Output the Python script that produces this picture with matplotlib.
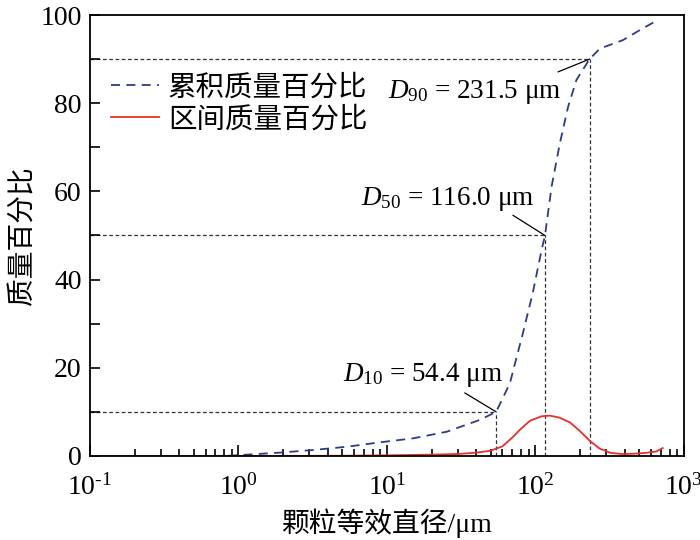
import matplotlib
matplotlib.use("Agg")
import matplotlib.pyplot as plt
from matplotlib.ticker import LogLocator, MultipleLocator, FuncFormatter
import numpy as np

plt.rcParams['font.family'] = ['Liberation Serif', 'Noto Sans CJK SC']
plt.rcParams['mathtext.fontset'] = 'custom'
plt.rcParams['mathtext.rm'] = 'Liberation Serif'
plt.rcParams['mathtext.it'] = 'Liberation Serif:italic'
plt.rcParams['axes.unicode_minus'] = False

# cumulative mass percentage
cum_x = [0.1, 0.66, 0.88, 1.14, 1.9, 3.2, 5.4, 9, 15, 25.3, 42.3, 54.4, 67.3, 82.4,
         96, 110, 116, 128.5, 146, 166, 189, 231.5, 272, 388, 506, 638]
cum_y = [0, 0, 0.07, 0.3, 0.76, 1.36, 2.1, 3.1, 4.0, 5.5, 8.2, 10, 16.5, 27.9,
         37, 46.7, 50, 61.1, 70.9, 79.2, 85.3, 90, 92.4, 94.3, 96.6, 98.5]
# interval mass percentage
int_x = [0.1, 1, 5, 10, 20, 30, 40, 50, 60, 70, 80, 92, 110, 125, 145, 171, 200,
         233, 270, 320, 380, 450, 550, 650, 720]
int_y = [0, 0, 0.05, 0.15, 0.3, 0.45, 0.75, 1.2, 2.2, 4.2, 6.2, 8.0, 9.0, 9.15,
         8.7, 7.6, 5.6, 3.4, 1.7, 0.7, 0.45, 0.5, 0.7, 1.0, 1.8]

d_labels = ['10', '50', '90']
d_values = [54.4, 116.0, 231.5]
d_percent = [10, 50, 90]

legend_labels = ['累积质量百分比', '区间质量百分比']
xlabel = '颗粒等效直径/μm'
ylabel = '质量百分比'

fig = plt.figure(figsize=(7, 5.4), dpi=100)
ax = fig.add_axes([0.1286, 0.1556, 0.8484, 0.8166])

ax.plot(cum_x, cum_y, color='#2e3a8c', lw=1.3, ls=(0, (5, 3.5)), label=legend_labels[0])
ax.plot(int_x, int_y, color='#e8302a', lw=1.3, label=legend_labels[1])

for dv, dp in zip(d_values, d_percent):
    ax.plot([0.1, dv], [dp, dp], color='#333333', lw=0.9, ls=(0, (3, 2)), zorder=1)
    ax.plot([dv, dv], [0, dp], color='#333333', lw=0.9, ls=(0, (3, 2)), zorder=1)

# text baseline-left positions and leader start points (axes fraction)
text_pos = [(0.426, 0.169), (0.457, 0.569), (0.502, 0.811)]
leader_start = [(0.631, 0.143), (0.712, 0.546), (0.788, 0.871)]
for lab, dv, dp, tp, ls_ in zip(d_labels, d_values, d_percent, text_pos, leader_start):
    ax.text(tp[0], tp[1], r'$\it{D}_{' + lab + r'}$' + ' = %.1f μm' % dv,
            transform=ax.transAxes, ha='left', va='baseline', fontsize=19.5)
    ax.annotate('', xy=(dv, dp), xycoords='data', xytext=ls_, textcoords='axes fraction',
                arrowprops=dict(arrowstyle='-', color='black', lw=0.9,
                                shrinkA=0, shrinkB=0))

def fmt(v, pos):
    e = int(round(np.log10(v)))
    if e < 0:
        return r'$\mathdefault{10^{\text{-}%d}}$' % (-e)
    return r'$\mathdefault{10^{%d}}$' % e

ax.set_xscale('log')
ax.set_xlim(0.1, 1000)
ax.set_ylim(0, 100)
ax.yaxis.set_major_locator(MultipleLocator(20))
ax.yaxis.set_minor_locator(MultipleLocator(10))
ax.xaxis.set_major_locator(LogLocator(base=10, numticks=10))
ax.xaxis.set_minor_locator(LogLocator(base=10, subs=range(2, 10), numticks=20))
ax.xaxis.set_major_formatter(FuncFormatter(fmt))
ax.tick_params(axis='both', which='both', direction='in', top=False, right=False,
               labelsize=20, width=1.2)
ax.tick_params(axis='x', which='major', length=8, pad=13)
ax.tick_params(axis='x', which='minor', length=5)
ax.tick_params(axis='y', which='both', length=7, pad=6)
for s in ax.spines.values():
    s.set_linewidth(1.3)

ax.set_xlabel(xlabel, fontsize=20, labelpad=6)
ax.set_ylabel(ylabel, fontsize=20, labelpad=3)

leg = ax.legend(loc='upper left', bbox_to_anchor=(0.035, 0.865), frameon=False,
                fontsize=20.5, handlelength=1.7, handletextpad=0.3, labelspacing=0.2,
                borderpad=0, borderaxespad=0)

fig.savefig('out.png', dpi=100)
